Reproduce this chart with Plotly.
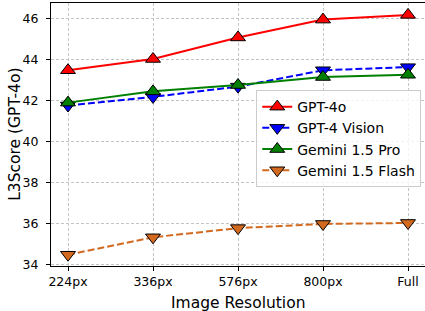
import plotly.graph_objects as go

resolutions = ["224px", "336px", "576px", "800px", "Full"]
gpt4o = [43.5, 44.05, 45.1, 45.97, 46.2]
gpt4v = [41.78, 42.2, 42.7, 43.5, 43.65]
gem_pro = [41.92, 42.47, 42.78, 43.17, 43.28]
gem_flash = [34.5, 35.35, 35.8, 36.0, 36.05]

series = [
    ("GPT-4o", gpt4o, "red", "solid", "triangle-up"),
    ("GPT-4 Vision", gpt4v, "blue", "7px,3px", "triangle-down"),
    ("Gemini 1.5 Pro", gem_pro, "green", "solid", "triangle-up"),
    ("Gemini 1.5 Flash", gem_flash, "#D2691E", "7px,3px", "triangle-down"),
]

font = "DejaVu Sans"
fig = go.Figure()
for name, vals, color, dash, sym in series:
    fig.add_trace(go.Scatter(
        x=list(range(len(resolutions))), y=vals, name=name, mode="lines+markers",
        line=dict(color=color, width=2, dash=dash),
        marker=dict(symbol=sym, size=13, color=color, line=dict(color="black", width=1)),
    ))

fig.update_layout(
    width=425, height=311,
    margin=dict(l=51, r=0, t=3, b=45, autoexpand=False),
    paper_bgcolor="white", plot_bgcolor="white",
    font=dict(family=font, color="black", size=12),
    legend=dict(x=0.99, y=0.669, xanchor="right", yanchor="top",
                bgcolor="rgba(255,255,255,0.8)", bordercolor="#cccccc", borderwidth=1,
                font=dict(size=14, family=font)),
    showlegend=True,
)
grid = dict(showgrid=True, gridcolor="#c4c4c4", griddash="3px,2px", gridwidth=0.8)
fig.update_xaxes(
    range=[-0.2, 4.2], tickmode="array", tickvals=list(range(len(resolutions))),
    ticktext=resolutions, showline=True, linecolor="black", linewidth=1, mirror=True,
    ticks="outside", ticklen=4, tickcolor="black", automargin=False,
    zeroline=False, tickfont=dict(size=12.5), **grid,
)
fig.update_yaxes(
    range=[33.95, 46.78], tickvals=[34, 36, 38, 40, 42, 44, 46],
    showline=True, linecolor="black", linewidth=1, mirror=True,
    ticks="outside", ticklen=4, tickcolor="black", automargin=False,
    zeroline=False, tickfont=dict(size=12.5), ticklabelstandoff=5, **grid,
)
fig.add_annotation(text="Image Resolution", xref="paper", yref="paper", x=0.5, y=-0.1,
                   yanchor="top", xanchor="center", showarrow=False, font=dict(size=15.5))
fig.add_annotation(text="L3Score (GPT-4o)", xref="paper", yref="paper", x=-0.098, y=0.5,
                   xanchor="center", yanchor="middle", textangle=-90, showarrow=False,
                   font=dict(size=15.5))
fig.write_html("out.html", config={"displayModeBar": False},
               post_script="document.body.style.margin='0';")
